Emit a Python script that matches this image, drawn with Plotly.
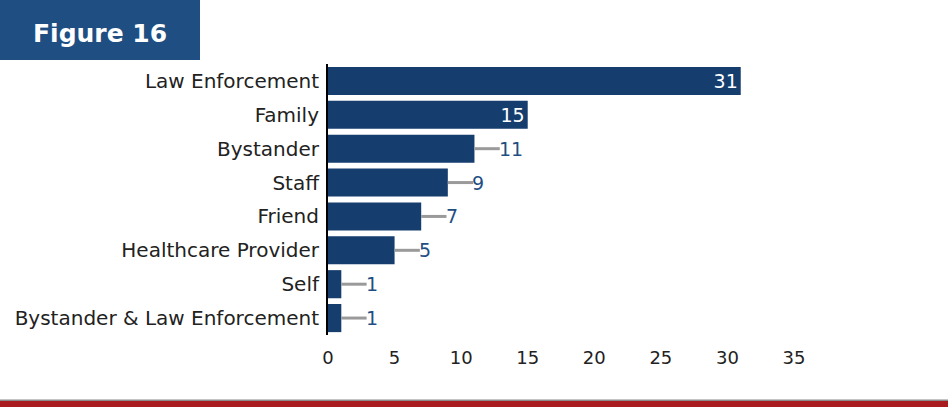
import plotly.graph_objects as go

categories = ["Law Enforcement", "Family", "Bystander", "Staff", "Friend",
              "Healthcare Provider", "Self", "Bystander & Law Enforcement"]
values = [31, 15, 11, 9, 7, 5, 1, 1]
x_ticks = [0, 5, 10, 15, 20, 25, 30, 35]

NAVY = "#153d6e"
FONT = "DejaVu Sans"
W, H = 948, 407
L, R, T, B = 328, 154, 64, 72
pw, ph = W - L - R, H - T - B

def px_x(p):
    return (p - L) / pw

def px_y(p):
    return (H - B - p) / ph

inside_thresh = 15
lead = 1.9

fig = go.Figure()
fig.add_trace(go.Bar(
    y=categories, x=values, orientation="h",
    marker=dict(color=NAVY, line=dict(width=0)),
    text=[str(v) if v >= inside_thresh else "" for v in values],
    textposition="inside", insidetextanchor="end", textangle=0,
    constraintext="none",
    insidetextfont=dict(color="white", size=19, family=FONT),
    error_x=dict(type="data", symmetric=False,
                 array=[0 if v >= inside_thresh else lead for v in values],
                 arrayminus=[0] * len(values),
                 color="#9a9a9a", thickness=3, width=0),
    hoverinfo="skip",
))

annotations = []
for c, v in zip(categories, values):
    if v < inside_thresh:
        annotations.append(dict(x=v + lead, y=c, xref="x", yref="y", text=str(v),
                                showarrow=False, xanchor="left", xshift=-3,
                                font=dict(color="#1f4e82", size=19, family=FONT)))

annotations.append(dict(x=px_x(100), y=px_y(33), xref="paper", yref="paper",
                        text="<b>Figure 16</b>", showarrow=False,
                        xanchor="center", yanchor="middle",
                        font=dict(color="white", size=25, family=FONT)))

shapes = [
    dict(type="rect", xref="paper", yref="paper", x0=px_x(0), x1=px_x(200),
         y0=px_y(60), y1=px_y(0), fillcolor="#1f4e82", line=dict(width=0), layer="below"),
    dict(type="rect", xref="paper", yref="paper", x0=px_x(0), x1=px_x(W),
         y0=px_y(401), y1=px_y(399.5), fillcolor="#8a8a8a", line=dict(width=0)),
    dict(type="rect", xref="paper", yref="paper", x0=px_x(0), x1=px_x(W),
         y0=px_y(408), y1=px_y(401), fillcolor="#a81c1f", line=dict(width=0)),
]

fig.update_layout(
    width=W, height=H,
    margin=dict(l=L, r=R, t=T, b=B, autoexpand=False),
    paper_bgcolor="white", plot_bgcolor="white",
    bargap=0.17, showlegend=False,
    annotations=annotations, shapes=shapes,
    font=dict(family=FONT, color="#222222"),
)
fig.update_xaxes(range=[0, 35], tickvals=x_ticks, showgrid=False, zeroline=False,
                 showline=False, ticks="", tickfont=dict(size=18, color="#222222"),
                 ticklabelstandoff=10)
fig.update_yaxes(categoryorder="array", categoryarray=categories, autorange="reversed",
                 showgrid=False, showline=True, linecolor="black", linewidth=2,
                 ticks="", tickfont=dict(size=20, color="#222222"), ticklabelstandoff=3)

fig.write_html("out.html", config={"displayModeBar": False},
               post_script="document.body.style.margin='0';")
